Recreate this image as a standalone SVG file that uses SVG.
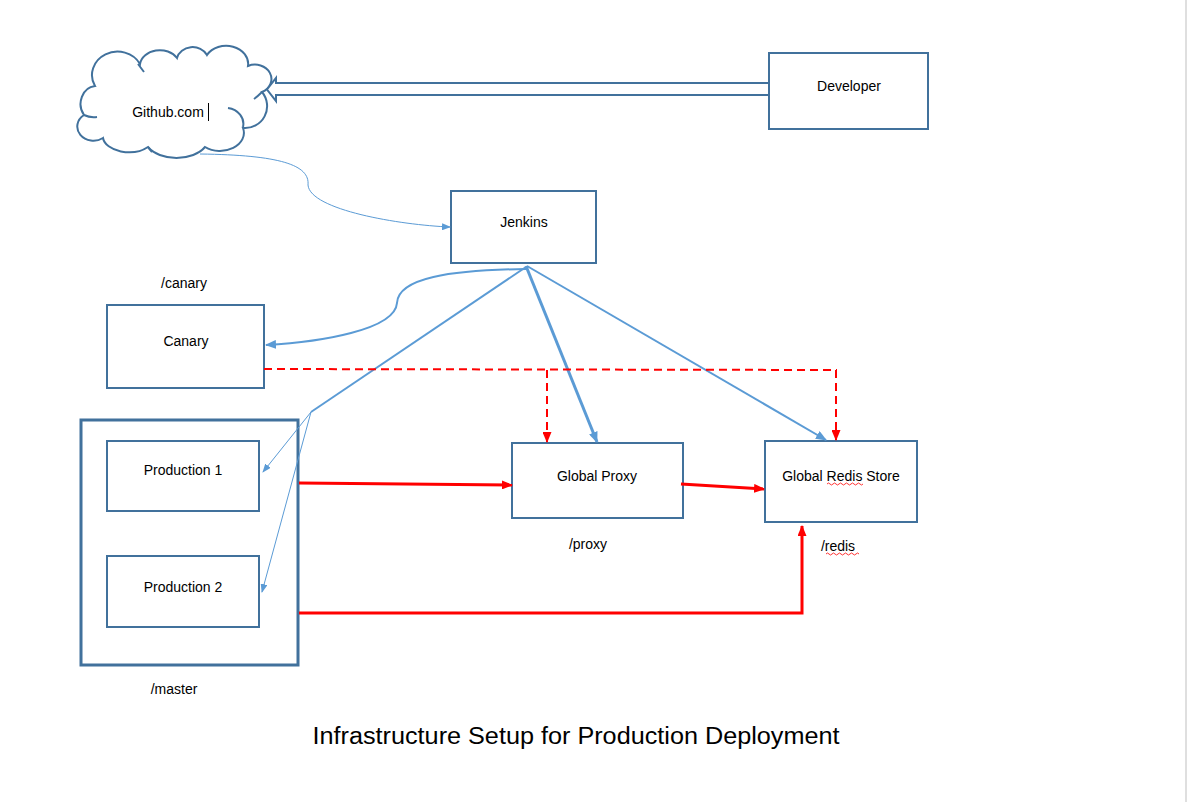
<svg xmlns="http://www.w3.org/2000/svg" width="1187" height="802" viewBox="0 0 1187 802">
<style>
.box{fill:#fff;stroke:#41719c;stroke-width:2}
.lbl{font-family:"Liberation Sans",Arial,sans-serif;font-size:14px;fill:#000;text-anchor:middle}
.blue{fill:none;stroke:#5b9bd5}
.red{fill:none;stroke:#ff0000}
.dash{stroke-width:2;stroke-dasharray:8 5}
.squig{fill:none;stroke:#ff0000;stroke-width:0.8}
</style>
<defs>
<marker id="ab" markerUnits="userSpaceOnUse" markerWidth="11" markerHeight="9" refX="10" refY="4.5" orient="auto"><path d="M0,0 L11,4.5 L0,9 z" fill="#5b9bd5"/></marker>
<marker id="abs" markerUnits="userSpaceOnUse" markerWidth="9" markerHeight="7" refX="8" refY="3.5" orient="auto"><path d="M0,0 L9,3.5 L0,7 z" fill="#5b9bd5"/></marker>
<marker id="ar" markerUnits="userSpaceOnUse" markerWidth="11" markerHeight="9" refX="10" refY="4.5" orient="auto"><path d="M0,0 L11,4.5 L0,9 z" fill="#ff0000"/></marker>
</defs>
<rect width="1187" height="802" fill="#fff"/>
<line x1="1186" y1="0" x2="1186" y2="802" stroke="#bfbfbf" stroke-width="1"/>

<g id="github">
<path class="box" d="M95,86 A24,22 0 0 1 140,64 A20,16 0 0 1 177,58 A16,14 0 0 1 207,55 A22,18 0 0 1 248,66 A16,14 0 0 1 262,92 A22,22 0 0 1 243,128 A24,18 0 0 1 205,147 A32,20 0 0 1 148,147 A26,16 0 0 1 103,138 A16,14 0 0 1 84,115 A16,18 0 0 1 95,86 Z"/>
<path d="M228,108 A18,16 0 0 1 243,127 M84,115 Q90,118 97,117 M138,64 Q141,68 144,72 M262,92 Q258,96 254,99 M148,147 Q150,150 152,152" fill="none" stroke="#41719c" stroke-width="2"/>
<text class="lbl" x="168" y="117">Github.com</text>
<line x1="208.5" y1="103" x2="208.5" y2="121" stroke="#000" stroke-width="1"/>
</g>

<g id="developer">
<rect class="box" x="769" y="53" width="159" height="76"/>
<text class="lbl" x="849" y="91">Developer</text>
</g>

<g id="jenkins">
<rect class="box" x="451" y="191" width="145" height="72"/>
<text class="lbl" x="524" y="227">Jenkins</text>
</g>

<g id="canary">
<text class="lbl" x="184" y="288">/canary</text>
<rect class="box" x="107" y="305" width="157" height="83"/>
<text class="lbl" x="186" y="346">Canary</text>
</g>

<g id="master">
<rect x="81" y="420" width="217" height="245" fill="#fff" stroke="#41719c" stroke-width="3"/>
<text class="lbl" x="174" y="694">/master</text>
</g>

<g id="production1">
<rect class="box" x="107" y="441" width="152" height="70"/>
<text class="lbl" x="183" y="475">Production 1</text>
</g>

<g id="production2">
<rect class="box" x="107" y="556" width="152" height="71"/>
<text class="lbl" x="183" y="592">Production 2</text>
</g>

<g id="proxy">
<rect class="box" x="512" y="443" width="171" height="75"/>
<text class="lbl" x="597" y="481">Global Proxy</text>
<text class="lbl" x="588" y="549">/proxy</text>
</g>

<g id="redis">
<rect class="box" x="765" y="441" width="152" height="81"/>
<text class="lbl" x="841" y="481">Global Redis Store</text>
<path class="squig" d="M827,484 q1.5,-2 3,0 t3,0 t3,0 t3,0 t3,0 t3,0 t3,0 t3,0 t3,0 t3,0 t3,0 t3,0"/>
<text class="lbl" x="838" y="551">/redis</text>
<path class="squig" d="M826,554 q1.5,-2 3,0 t3,0 t3,0 t3,0 t3,0 t3,0 t3,0 t3,0 t3,0 t3,0 t3,0"/>
</g>

<g id="connectors">
<polygon points="769,83 276,83 276,78 267,89.5 276,101 276,95 769,95" fill="#fff" stroke="#41719c" stroke-width="2"/>
<path class="blue" stroke-width="1" d="M200,154 C280,155 310,165 308,185 C310,210 400,225 450,227" marker-end="url(#abs)"/>
<path class="blue" stroke-width="2" d="M526,269 C450,270 398,278 397,303 C395,330 320,342 266,345" marker-end="url(#ab)"/>
<path class="blue" stroke-width="2" d="M526,267 L311,412"/>
<path class="blue" stroke-width="1" d="M311,412 L263,472" marker-end="url(#abs)"/>
<path class="blue" stroke-width="1" d="M311,412 L262,592" marker-end="url(#abs)"/>
<path class="blue" stroke-width="3" d="M526,266 L597,442" marker-end="url(#ab)"/>
<path class="blue" stroke-width="2" d="M527,266 L826,440" marker-end="url(#ab)"/>
<path class="red dash" d="M264,369 L836,370 L836,440" marker-end="url(#ar)"/>
<path class="red dash" d="M547,370 L547,442" marker-end="url(#ar)"/>
<path class="red" stroke-width="3" d="M299,483 L512,485" marker-end="url(#ar)"/>
<path class="red" stroke-width="3" d="M681,484 L764,489" marker-end="url(#ar)"/>
<path class="red" stroke-width="3" d="M299,613 L802,613 L802,526" marker-end="url(#ar)"/>
</g>

<text x="576" y="744" font-family="'Liberation Sans',Arial,sans-serif" font-size="23" text-anchor="middle" textLength="527" lengthAdjust="spacingAndGlyphs" fill="#000">Infrastructure Setup for Production Deployment</text>
</svg>
